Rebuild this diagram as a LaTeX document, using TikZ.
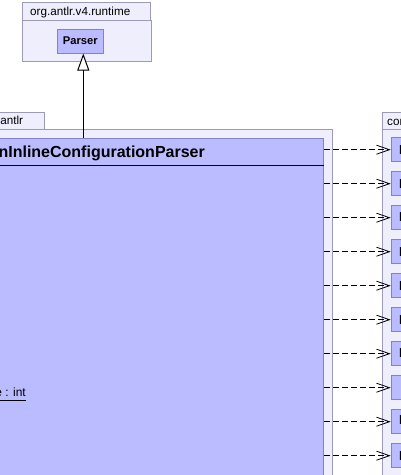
\documentclass[tikz,border=0pt]{standalone}
\usepackage{fontspec}
\setmainfont{Liberation Sans}
\usetikzlibrary{arrows.meta}

\definecolor{pkgfill}{RGB}{238,238,253}
\definecolor{pkgline}{RGB}{155,155,185}
\definecolor{clsfill}{RGB}{187,187,255}
\definecolor{clsline}{RGB}{130,130,200}

\begin{document}
\begin{tikzpicture}[x=1pt,y=-1pt,
  pkg/.style={draw=pkgline,fill=pkgfill,line width=1pt},
  cls/.style={draw=clsline,fill=clsfill,line width=1pt,inner sep=0pt},
  typebox/.style={cls,anchor=west,minimum height=24pt,inner xsep=8pt,font=\bfseries\fontsize{13}{15}\selectfont},
  dep/.style={line width=0.8pt,dash pattern=on 6pt off 3pt,-{Straight Barb[length=13pt,width=9pt,line width=0.8pt]}},
  gen/.style={line width=1pt,-{Triangle[open,length=17pt,width=12pt,fill=white]}}]

\useasboundingbox (0,0) rectangle (401,475);
\clip (0,0) rectangle (401,475);

% packages
\draw[pkg] (22.3,2.7) rectangle (150,20);
\draw[pkg] (22.3,20) rectangle (151.7,61);
\node[anchor=base west,inner sep=0pt,font=\fontsize{11.7}{14}\selectfont] (rtpkg) at (30,15) {org.antlr.v4.runtime};

\draw[pkg] (-60,112) rectangle (44,129);
\draw[pkg] (-60,129) rectangle (332.7,500);
\node[anchor=base east,inner sep=0pt,font=\fontsize{11.7}{14}\selectfont] (antlrpkg) at (23.3,124) {config.antlr};

\draw[pkg] (382.3,112) rectangle (460,129);
\draw[pkg] (382.3,129) rectangle (460,500);
\node[anchor=base west,inner sep=0pt,font=\fontsize{11.7}{14}\selectfont] (cfgpkg) at (387,125) {config.model};

% classes
\node[cls,minimum width=46pt,minimum height=24pt,font=\bfseries\fontsize{11.2}{13}\selectfont] (parser) at (80.3,41) {Parser};

\node[cls,anchor=north east,minimum width=420pt,minimum height=360pt] (cls) at (324.3,137.7) {};
\draw[line width=1pt] (cls.west |- 0,165) -- (cls.east |- 0,165);
\node[anchor=base east,inner sep=0pt,font=\bfseries\fontsize{16}{18}\selectfont] (title) at (205,157.3) {AnnotationInlineConfigurationParser};
\node[anchor=base east,inner sep=0pt,font=\fontsize{12}{14}\selectfont] (attr) at (26,396) {\underline{RULE\_configurationLine : int}};

\coordinate (g) at (83.3,137.7);
\draw[gen] (g) -- (g |- parser.south);

% used types
\foreach \name [count=\i] in {LineDefinition,BlockDefinition,Expression,Definition,Identifier,Label,Keyword,\hspace{6pt}Option,Property,Rule} {
  \node[typebox] (t\i) at (390.7,{149.7+34*(\i-1)}) {\name};
  \draw[dep] (cls.east |- t\i.west) -- (t\i.west);
}
\end{tikzpicture}
\end{document}
